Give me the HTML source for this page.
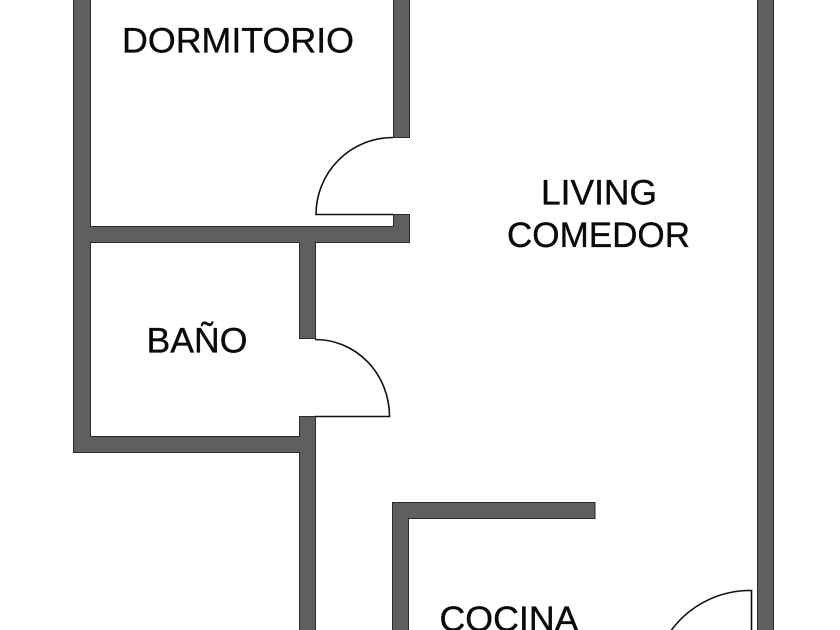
<!DOCTYPE html>
<html>
<head>
<meta charset="utf-8">
<style>
html,body{margin:0;padding:0;background:#fff;width:840px;height:630px;overflow:hidden}
svg{display:block}
text{font-family:"Liberation Sans",sans-serif;font-size:35.5px;fill:#0a0a0a;stroke:#0a0a0a;stroke-width:.35}
.w{fill:#5f5f5f;stroke:#2a2a2a;stroke-width:1}
.d{fill:none;stroke:#111;stroke-width:1.6}
</style>
</head>
<body>
<svg width="840" height="630" viewBox="0 0 840 630" xmlns="http://www.w3.org/2000/svg">
<rect width="840" height="630" fill="#fff"/>
<path class="w" d="M73.500 -2H90.500V226.500H393.500V214.500H409.500V242.500H315.500V338.500H299.500V242.500H90.500V436.500H299.500V416.500H315.500V632H299.500V452.500H73.500Z"/>
<rect class="w" x="393.500" y="-2" width="16" height="139.500"/>
<path class="w" d="M392.500 632V502.500H595V518.500H408.500V632Z"/>
<rect class="w" x="757.500" y="-2" width="16" height="634"/>
<path class="d" d="M393 137.500A77 77 0 0 0 316 214.500H393"/>
<path class="d" d="M315 339.500A74 77 0 0 1 389.500 416.500H315"/>
<path class="d" d="M751.500 632V590.500A98 98 0 0 0 670 632"/>
<text x="122" y="52.500" textLength="232" lengthAdjust="spacingAndGlyphs">DORMITORIO</text>
<text x="541" y="204.500" textLength="116" lengthAdjust="spacingAndGlyphs">LIVING</text>
<text x="507" y="247" textLength="183" lengthAdjust="spacingAndGlyphs">COMEDOR</text>
<text x="146.500" y="352.500" textLength="101" lengthAdjust="spacingAndGlyphs">BAÑO</text>
<text x="439.500" y="631" textLength="139" lengthAdjust="spacingAndGlyphs">COCINA</text>
</svg>
</body>
</html>
